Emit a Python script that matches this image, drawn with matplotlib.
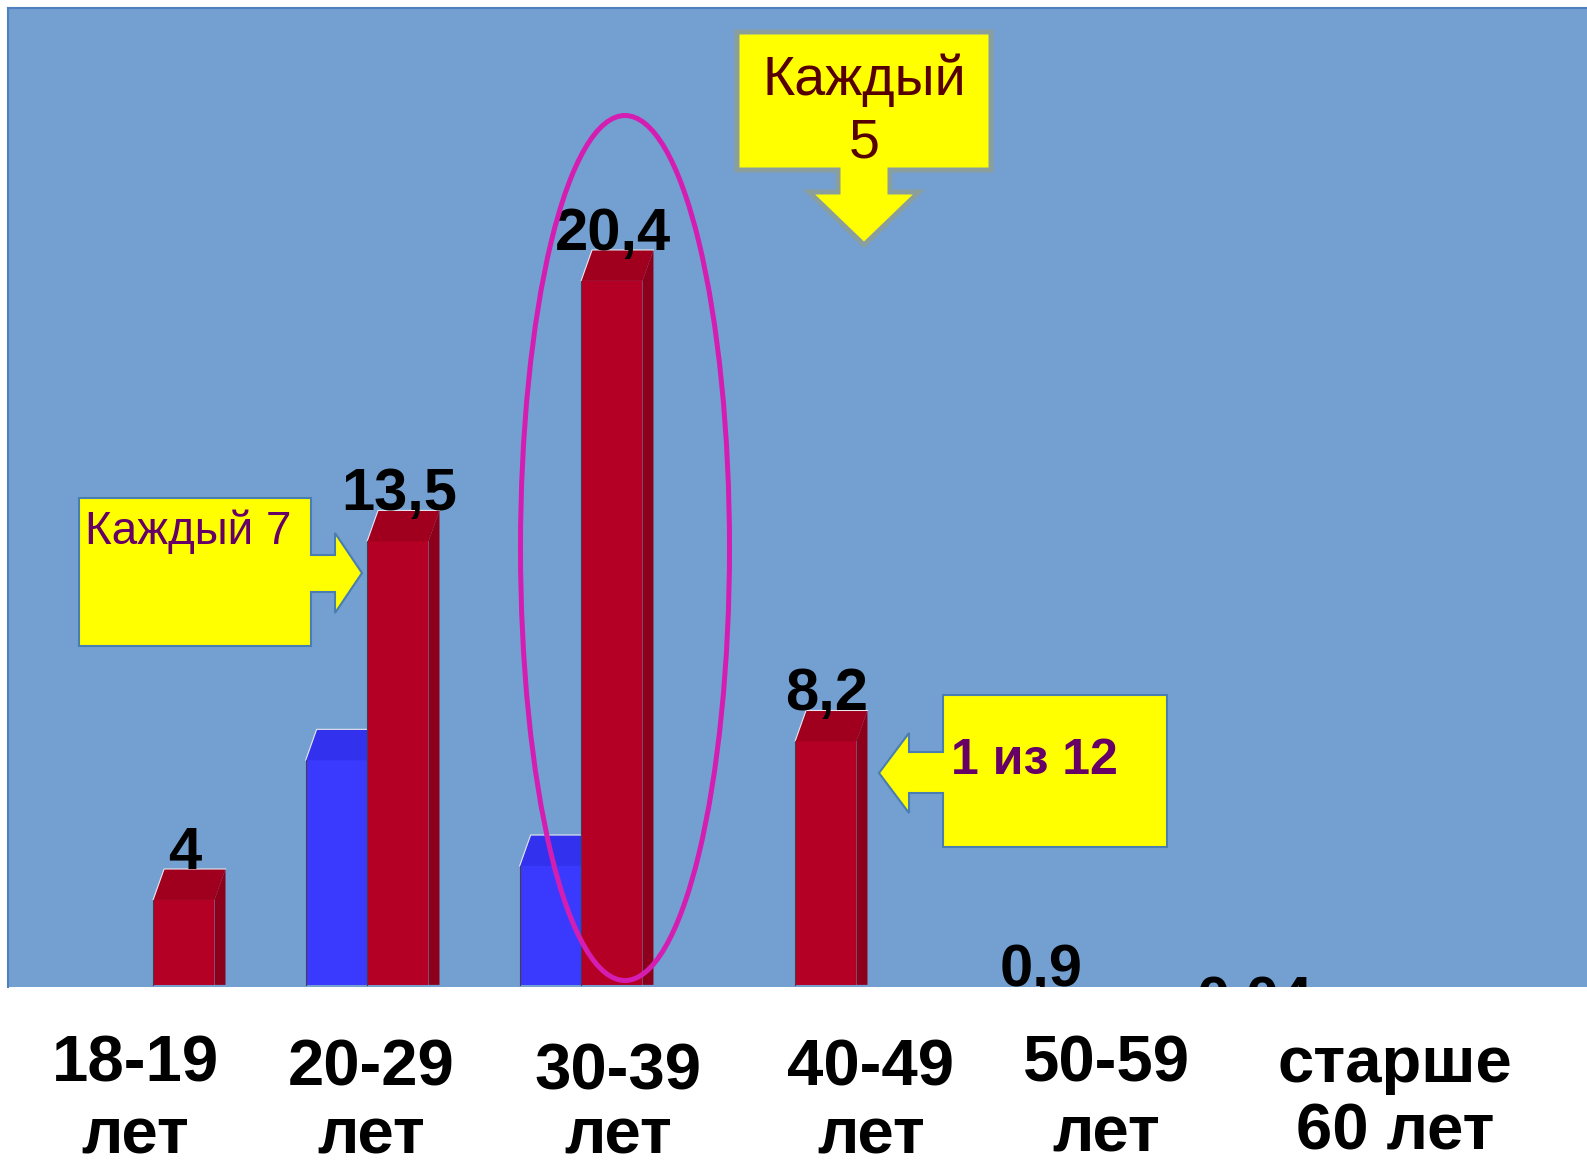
import matplotlib
matplotlib.use("Agg")
import matplotlib.pyplot as plt
from matplotlib.patches import Polygon, Ellipse

plt.rcParams['font.family'] = ['Liberation Sans', 'DejaVu Sans']

# data
categories = ['18-19\nлет', '20-29\nлет', '30-39\nлет', '40-49\nлет', '50-59\nлет', 'старше\n60 лет']
red_values = [4, 13.5, 20.4, 8.2, 0.9, 0.04]
blue_values = [0, 7.7, 4.9, 0, 0, 0]
callout_texts = ['Каждый\n5', 'Каждый 7', '1 из 12']

W, H = 1587, 1165
fig = plt.figure(figsize=(W / 100, H / 100), dpi=100)
fig.patch.set_facecolor('white')

# plot area in pixels: x 8..1587, y 8..987
ax = fig.add_axes([8 / W, (H - 987) / H, (W - 8) / W, 979 / H])
bg = '#73A0D0'
ax.set_facecolor(bg)
ax.set_xlim(-0.678, 6.701)
ax.set_ylim(0.874, 26.81)
ax.set_xticks([])
ax.set_yticks([])
for s in ['right', 'bottom']:
    ax.spines[s].set_visible(False)
for s in ['top', 'left']:
    ax.spines[s].set_color('#4F80BE')
    ax.spines[s].set_linewidth(1.5)

w = 0.287      # bar width (category units)
dx = 0.0514    # 3d depth, x
dy = 0.82      # 3d depth, y
floor = 0.93

def bar3d(x0, v, front, top, side):
    x1 = x0 + w
    if v <= floor:
        return
    ax.fill([x0, x1, x1, x0], [floor, floor, v - dy, v - dy], color=front, lw=0, zorder=2)
    ax.fill([x1, x1 + dx, x1 + dx, x1], [floor, floor, v, v - dy], color=side, lw=0, zorder=2)
    ax.fill([x0, x0 + dx, x1 + dx, x1], [v - dy, v, v, v - dy], color=top, lw=0, zorder=2)
    ax.plot([x0, x0 + dx, x1 + dx], [v - dy, v, v], color='#E8E8F0', lw=0.8, zorder=2)
    ax.plot([x0, x0], [floor, v - dy], color='#4A3A50', lw=0.8, zorder=2)

for i, v in enumerate(blue_values):
    bar3d(i - w, v, '#3A3AFF', '#3232EE', '#2A2AC8')
for i, v in enumerate(red_values):
    bar3d(i, v, '#B40024', '#A0001E', '#8C001C')

for i, v in enumerate(red_values):
    lbl = f"{v:g}".replace('.', ',')
    ax.text(i + w / 2 + 0.005, v, lbl, ha='center', va='baseline', fontsize=43,
            fontweight='bold', color='black', clip_on=True, zorder=4)

# overlay in pixel coordinates for callouts, ellipse, category labels
ov = fig.add_axes([0, 0, 1, 1])
ov.set_xlim(0, W)
ov.set_ylim(H, 0)
ov.axis('off')
ov.patch.set_alpha(0)

ov.add_patch(Ellipse((625, 548), 209, 865, fill=False, edgecolor='#D41EB2', lw=3.6, zorder=5))

c1 = [(737, 32), (991, 32), (991, 170), (890, 170), (890, 192), (919, 192), (864, 245),
      (809, 192), (838, 192), (838, 170), (737, 170)]
ov.add_patch(Polygon(c1, closed=True, facecolor='#FFFF00', edgecolor='#8A9E9E', lw=3.6, zorder=6))
line1, line2 = callout_texts[0].split('\n')
ov.text(864, 95, line1, ha='center', va='baseline', fontsize=40, color='#560000', zorder=7)
ov.text(864, 157, line2, ha='center', va='baseline', fontsize=40, color='#560000', zorder=7)

c2 = [(79, 498), (311, 498), (311, 555), (335, 555), (335, 533), (362, 573), (335, 613),
      (335, 592), (311, 592), (311, 646), (79, 646)]
ov.add_patch(Polygon(c2, closed=True, facecolor='#FFFF00', edgecolor='#4A7DB0', lw=1.5, zorder=6))
ov.text(85, 544, callout_texts[1], ha='left', va='baseline', fontsize=33, color='#660066', zorder=7)

c3 = [(943, 695), (1167, 695), (1167, 847), (943, 847), (943, 793), (909, 793), (909, 813),
      (879, 773), (909, 733), (909, 752), (943, 752)]
ov.add_patch(Polygon(c3, closed=True, facecolor='#FFFF00', edgecolor='#4A7DB0', lw=1.5, zorder=6))
ov.text(951, 774, callout_texts[2], ha='left', va='baseline', fontsize=36, fontweight='bold',
        color='#660066', zorder=7)

# category labels under the plot
lab_x = [135, 371, 618, 871, 1106, 1395]
lab_y1 = [1081, 1086, 1090, 1086, 1081, 1082]
lab_y2 = [1153, 1154, 1154, 1153, 1152, 1150]
for cat, x, y1, y2 in zip(categories, lab_x, lab_y1, lab_y2):
    a, b = cat.split('\n')
    ov.text(x, y1, a, ha='center', va='baseline', fontsize=47, fontweight='bold', color='black')
    ov.text(x, y2, b, ha='center', va='baseline', fontsize=47, fontweight='bold', color='black')

fig.savefig('out.png', dpi=100)
